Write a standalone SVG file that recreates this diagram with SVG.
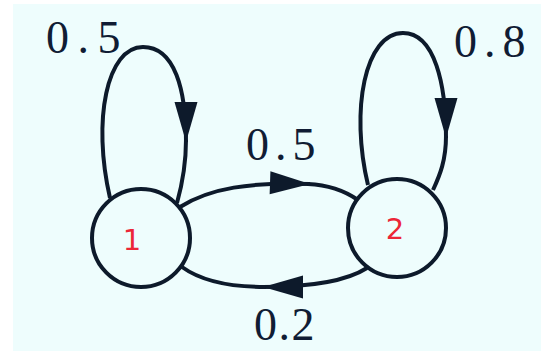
<svg xmlns="http://www.w3.org/2000/svg" width="541" height="351" viewBox="0 0 541 351">
  <style>
    .edge { fill: none; stroke: #0d1a2b; stroke-width: 4; }
    .head { marker-end: url(#arrow); }
    .node circle { fill: none; stroke: #0d1a2b; stroke-width: 4; }
    .node text { font-family: "DejaVu Sans", sans-serif; font-size: 29px; fill: #ec2638; text-anchor: middle; }
    .lbl { font-family: "Liberation Serif", "Times New Roman", serif; font-size: 46px; fill: #101c34; }
  </style>
  <defs>
    <marker id="arrow" markerUnits="userSpaceOnUse" viewBox="-42 -13 44 26" refX="0" refY="0" markerWidth="44" markerHeight="26" orient="auto">
      <path d="M-40,-11.5 L0,0 L-40,11.5 Z" fill="#0d1a2b"/>
    </marker>
  </defs>
  <rect x="0" y="0" width="541" height="351" fill="#ffffff"/>
  <rect x="13" y="4" width="528" height="347" fill="#eefdfd"/>

  <g id="connectors">
    <g id="e11">
      <path class="edge head" d="M110,198 C92,120 107,47 143,47 C175,47 186,90 186,142"/>
      <path class="edge" d="M186,140 C186,165 182,185 177,203"/>
    </g>
    <g id="e22">
      <path class="edge head" d="M368,185 C350,110 365,33 403,33 C435,33 446,85 446,138"/>
      <path class="edge" d="M446,136 C446,160 440,175 433,190"/>
    </g>
    <g id="e12">
      <path class="edge head" d="M180,207 C210,188 250,182 310,184"/>
      <path class="edge" d="M308,184 C330,185 345,191 358,200"/>
    </g>
    <g id="e21">
      <path class="edge head" d="M367,268 C345,282 310,287 263,287"/>
      <path class="edge" d="M265,287 C230,287 200,280 182,267"/>
    </g>
  </g>

  <g id="labels">
    <text class="lbl" x="46" y="53" letter-spacing="8.5">0.5</text>
    <text class="lbl" x="454" y="57" letter-spacing="7">0.8</text>
    <text class="lbl" x="246" y="160" letter-spacing="6">0.5</text>
    <text class="lbl" x="254" y="340" letter-spacing="1.5">0.2</text>
  </g>

  <g id="node1" class="node">
    <circle cx="141" cy="238" r="49"/>
    <text x="132" y="250">1</text>
  </g>
  <g id="node2" class="node">
    <circle cx="397" cy="228" r="49"/>
    <text x="395" y="239">2</text>
  </g>
</svg>
